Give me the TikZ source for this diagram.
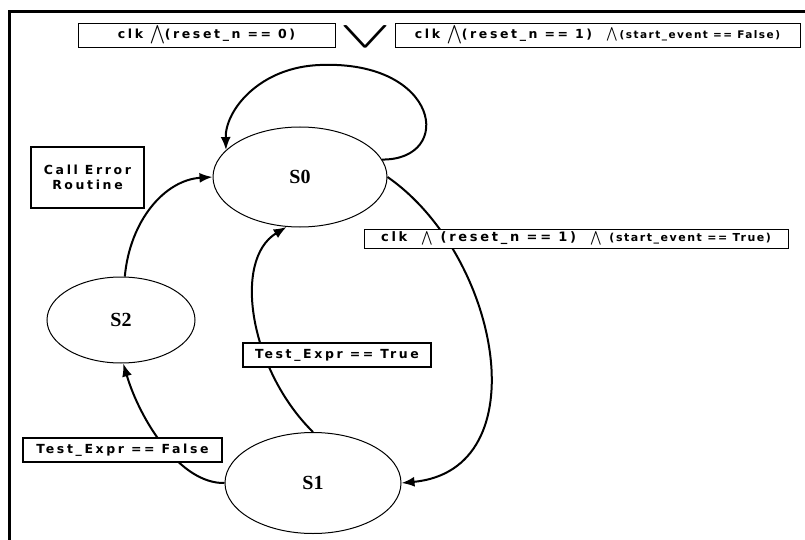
\documentclass[tikz,border=0pt]{standalone}
\usepackage{amsmath}
\usepackage{fontspec}
\usepackage{tikz}
\usetikzlibrary{shapes.geometric}
\usetikzlibrary{arrows.meta,positioning}
\setmainfont{DejaVu Sans}
\newfontfamily\lblfont[LetterSpace=21]{DejaVu Sans}
\newfontfamily\smlfont[LetterSpace=14]{DejaVu Sans}
\newfontfamily\stfont{Liberation Serif}
\newcommand\wdg{\scalebox{1.1}{$\displaystyle\bigwedge$}}
\newcommand\swdg{\scalebox{1.15}{$\bigwedge$}}

\begin{document}
\begin{tikzpicture}[x=1pt,y=-1pt,line width=2pt,>={Latex[length=13pt,width=10pt]}]
\useasboundingbox (0,0) rectangle (805,540);
\draw[line width=3pt] (805,12) -- (9,12) -- (9,540); %% frame
\begin{scope}[shape=ellipse,line width=1pt,font=\stfont\bfseries\fontsize{20}{20}\selectfont]
\tikzstyle{every node}=[draw,inner sep=0] %%
\node[minimum width=174pt,minimum height=100pt] (s0) at (300,177) {S0}; %%
\node[minimum width=176pt,minimum height=101pt] (s1) at (313,483) {S1}; %%
\node[minimum width=148pt,minimum height=86pt] (s2) at (121,320) {S2}; %%
\end{scope}
\draw[->] (s0.12) .. controls (455,160) and (440,60) .. (320,65) .. controls (260,67) and (225,110) .. (s0.160); %%
\draw[->] (s2.85) .. controls (130,220) and (165,180) .. (s0.west); %%
\draw[->] (s1.west) .. controls (180,484) and (140,420) .. (s2.-87); %%
\draw[->] (s1.north) .. controls (250,370) and (232,260) .. (s0.-105); %%
\draw[->] (s0.east) .. controls (500,255) and (540,470) .. (s1.east); %%
\begin{scope}[font=\lblfont\bfseries\fontsize{12.5}{15}\selectfont]
\tikzstyle{every node}=[draw,fill=white,inner sep=0] %%
\node[minimum width=257pt,minimum height=24pt,line width=.7pt] (or1) at (206.5,35) {clk \wdg(reset\_n == 0)}; %%
\node[draw=none,fill=none] (vee) at (365.5,37) {\scalebox{3.6}[1.35]{$\displaystyle\bigvee$}}; %%
\node[minimum width=405pt,minimum height=24pt,line width=.7pt] (or2) at (597.5,35) {clk \wdg(reset\_n == 1)\ \ \swdg\,{\smlfont\fontsize{10.5}{12}\selectfont(start\_event == False)}}; %%
\node[minimum width=424pt,minimum height=19pt,line width=.7pt,font=\lblfont\bfseries\fontsize{13}{15}\selectfont] (go) at (576,238.5) {clk \ \swdg\ (reset\_n == 1) \ \swdg\ {\smlfont\fontsize{11}{12}\selectfont(start\_event == True)}}; %%
\node[minimum width=113pt,minimum height=61pt,line width=1.2pt,align=center] (err) at (87.5,177.5) {Call Error\\Routine}; %%
\node[minimum width=188pt,minimum height=24pt,line width=2.5pt] (tt) at (337,355) {Test\_Expr == True}; %%
\node[minimum width=199pt,minimum height=24pt,line width=2.5pt] (tf) at (122.5,450) {Test\_Expr == False}; %%
\end{scope}
\end{tikzpicture}
\end{document}
